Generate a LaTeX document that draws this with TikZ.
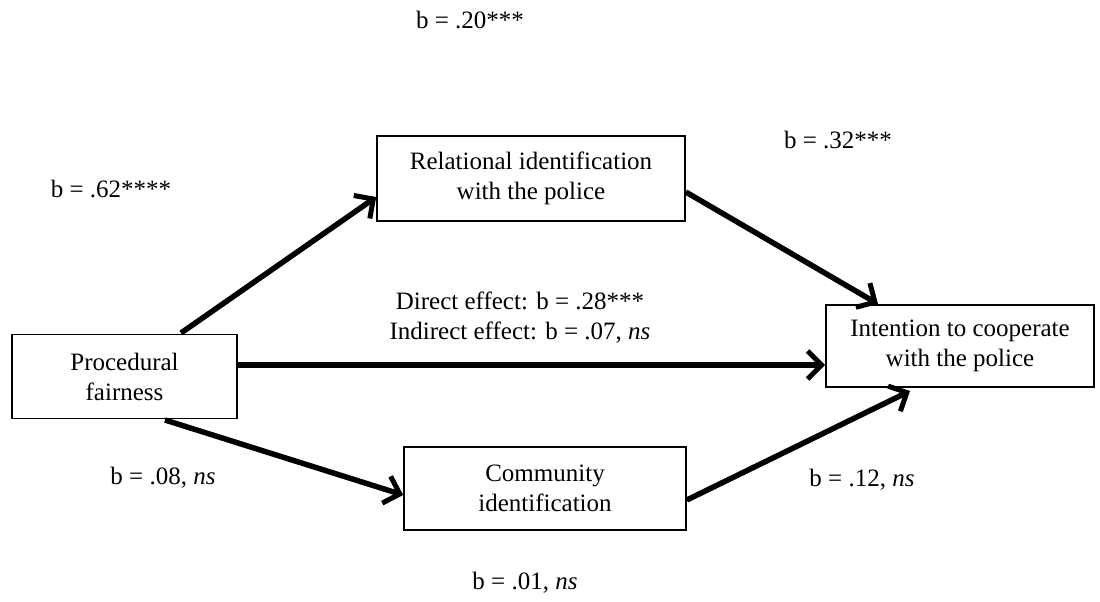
\documentclass[tikz,border=0pt]{standalone}
\usepackage{fontspec}
\setmainfont{Liberation Serif}
\usetikzlibrary{arrows.meta}
\begin{document}
\begin{tikzpicture}[x=1pt,y=-1pt,
  box/.style={draw,line width=1.6pt,inner sep=0pt,align=center,font=\fontsize{25}{30}\selectfont},
  lab/.style={font=\fontsize{25}{30}\selectfont,inner sep=0pt,align=center},
  arr/.style={line width=5.5pt,-{Straight Barb[length=14pt,width=28pt,line width=5pt]}}]
\useasboundingbox (0,0) rectangle (1100,602);
\node[box,minimum width=225pt,minimum height=84pt] (pf) at (124.5,376.5) {Procedural\\fairness};
\node[box,minimum width=308pt,minimum height=85pt] (ri) at (531,178.5) {Relational identification\\with the police};
\node[box,minimum width=268pt,minimum height=82pt] (ic) at (960,346) {Intention to cooperate\\with the police};
\node[box,minimum width=282pt,minimum height=83pt] (ci) at (545,488.5) {Community\\identification};
\coordinate (a1) at (181,333);
\coordinate (a2) at (165,420);
\coordinate (b1) at (878,304);
\coordinate (b2) at (910,391);
\draw[arr] (a1) -- (ri.west |- 0,197);
\draw[arr] (ri.east |- 0,192) -- (b1);
\draw[arr] (pf.east |- 0,365) -- (ic.west |- 0,365);
\draw[arr] (a2) -- (ci.west |- 0,495);
\draw[arr] (ci.east |- 0,500) -- (b2);
\node[lab] (l1) at (470,20) {b = .20***};
\node[lab] (l2) at (111,189) {b = .62****};
\node[lab] (l3) at (838,140) {b = .32***};
\node[lab] (l4) at (520,318) {Direct effect: b = .28***\\Indirect effect: b = .07, \textit{ns}};
\node[lab] (l5) at (163,478) {b = .08, \textit{ns}};
\node[lab] (l6) at (862,480) {b = .12, \textit{ns}};
\node[lab] (l7) at (525,583) {b = .01, \textit{ns}};
\end{tikzpicture}
\end{document}
